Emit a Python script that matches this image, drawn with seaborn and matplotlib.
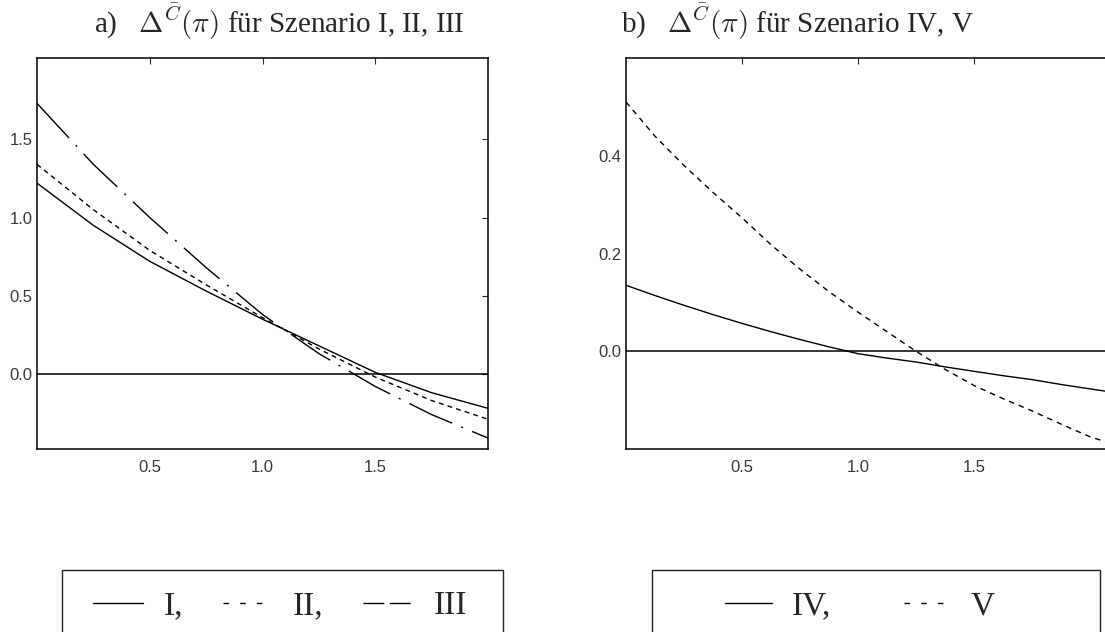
import numpy as np
import pandas as pd
import matplotlib
matplotlib.use("Agg")
import matplotlib.pyplot as plt
from matplotlib.lines import Line2D
from matplotlib.patches import Rectangle
import seaborn as sns

# data
pi_a = [0.0, 0.25, 0.5, 0.75, 1.0, 1.25, 1.5, 1.75, 2.0]
sz_I = [1.22, 0.95, 0.72, 0.53, 0.35, 0.18, 0.01, -0.12, -0.22]
sz_II = [1.34, 1.05, 0.79, 0.57, 0.36, 0.16, -0.02, -0.17, -0.29]
sz_III = [1.73, 1.34, 1.00, 0.68, 0.38, 0.13, -0.08, -0.26, -0.41]

pi_b = [0.0, 0.125, 0.25, 0.375, 0.5, 0.625, 0.75, 0.875, 1.0, 1.125,
        1.25, 1.375, 1.5, 1.625, 1.75, 1.875, 2.0, 2.1]
sz_IV = [0.135, 0.114, 0.094, 0.075, 0.057, 0.040, 0.024, 0.009, -0.005, -0.014,
         -0.022, -0.032, -0.041, -0.050, -0.058, -0.068, -0.077, -0.084]
sz_V = [0.51, 0.44, 0.38, 0.325, 0.273, 0.218, 0.168, 0.122, 0.08, 0.04,
        0.0, -0.037, -0.07, -0.097, -0.122, -0.149, -0.175, -0.19]

labels_a = ["I", "II", "III"]
labels_b = ["IV", "V"]

df_a = pd.concat([pd.DataFrame({"pi": pi_a, "delta": v, "Szenario": n})
                  for n, v in zip(labels_a, [sz_I, sz_II, sz_III])])
df_b = pd.concat([pd.DataFrame({"pi": pi_b, "delta": v, "Szenario": n})
                  for n, v in zip(labels_b, [sz_IV, sz_V])])

sns.set_theme(style="white", rc={"axes.edgecolor": "black", "axes.linewidth": 1.1,
                                 "mathtext.fontset": "cm"})
plt.rcParams["font.family"] = ["Liberation Sans", "DejaVu Sans"]

fig = plt.figure(figsize=(11.05, 6.32), dpi=100)
ax1 = fig.add_axes([37 / 1105, 1 - 449 / 632, 451 / 1105, 391 / 632])
ax2 = fig.add_axes([626 / 1105, 1 - 449 / 632, 492 / 1105, 391 / 632])

dash_a = {"I": "", "II": (3.5, 3.0), "III": (34, 7, 1.5, 7)}
dash_b = {"IV": "", "V": (4.0, 3.5)}

sns.lineplot(data=df_a, x="pi", y="delta", style="Szenario", dashes=dash_a,
             color="black", lw=1.0, legend=False, estimator=None, ax=ax1)
sns.lineplot(data=df_b, x="pi", y="delta", style="Szenario", dashes=dash_b,
             color="black", lw=1.0, legend=False, estimator=None, ax=ax2)

for ax in (ax1, ax2):
    ax.axhline(0, color="black", lw=1.1)
    ax.set_xlabel("")
    ax.set_ylabel("")
    ax.set_xticks([0.5, 1.0, 1.5])
    ax.set_xticklabels(["0.5", "1.0", "1.5"])
    ax.tick_params(direction="in", top=True, right=True, length=4, width=0.8,
                   labelsize=12, labelcolor="#3a3a3a")
    ax.tick_params(axis="x", pad=8)
    ax.tick_params(axis="y", pad=3)

ax1.set_xlim(0, 2.0)
ax1.set_ylim(-0.48, 2.02)
ax1.set_yticks([0.0, 0.5, 1.0, 1.5])
ax1.set_yticklabels(["0.0", "0.5", "1.0", "1.5"])

ax2.set_xlim(0, 2.0 * 492 / 464)
ax2.set_ylim(-0.2, 0.6)
ax2.set_yticks([0.0, 0.2, 0.4])
ax2.set_yticklabels(["0.0", "0.2", "0.4"])

tfont = dict(family=["Liberation Serif", "DejaVu Serif"], size=21)
fig.text(279 / 1105, 1 - 22 / 632, r"a)   $\Delta^{\bar{C}}(\pi)$ für Szenario I, II, III",
         ha="center", va="center", **tfont)
fig.text(798 / 1105, 1 - 22 / 632, r"b)   $\Delta^{\bar{C}}(\pi)$ für Szenario IV, V",
         ha="center", va="center", **tfont)

# legend boxes, running off the bottom of the page
for x0, x1 in [(62, 503), (652, 1100)]:
    fig.add_artist(Rectangle((x0 / 1105, -0.1), (x1 - x0) / 1105, 0.1 + (632 - 570) / 632,
                             transform=fig.transFigure, fill=False, ec="#222222", lw=1.0))

lfont = dict(family=["Liberation Serif", "DejaVu Serif"], size=24)
h_a = [Line2D([], [], color="black", lw=1.0),
       Line2D([], [], color="black", lw=1.0, dashes=(4, 8)),
       Line2D([], [], color="black", lw=1.0, dashes=(15, 4))]
h_b = [Line2D([], [], color="black", lw=1.0),
       Line2D([], [], color="black", lw=1.0, dashes=(4, 8))]
fig.legend(h_a, ["I,", "II,", "III"], ncol=3, loc="center", frameon=False,
           bbox_to_anchor=(280 / 1105, 1 - 606 / 632), prop=lfont,
           handlelength=1.5, columnspacing=1.2, handletextpad=0.6)
fig.legend(h_b, ["IV,", "V"], ncol=2, loc="center", frameon=False,
           bbox_to_anchor=(860 / 1105, 1 - 606 / 632), prop=lfont,
           handlelength=1.4, columnspacing=2.2, handletextpad=0.6)

fig.savefig("out.png", dpi=100)
